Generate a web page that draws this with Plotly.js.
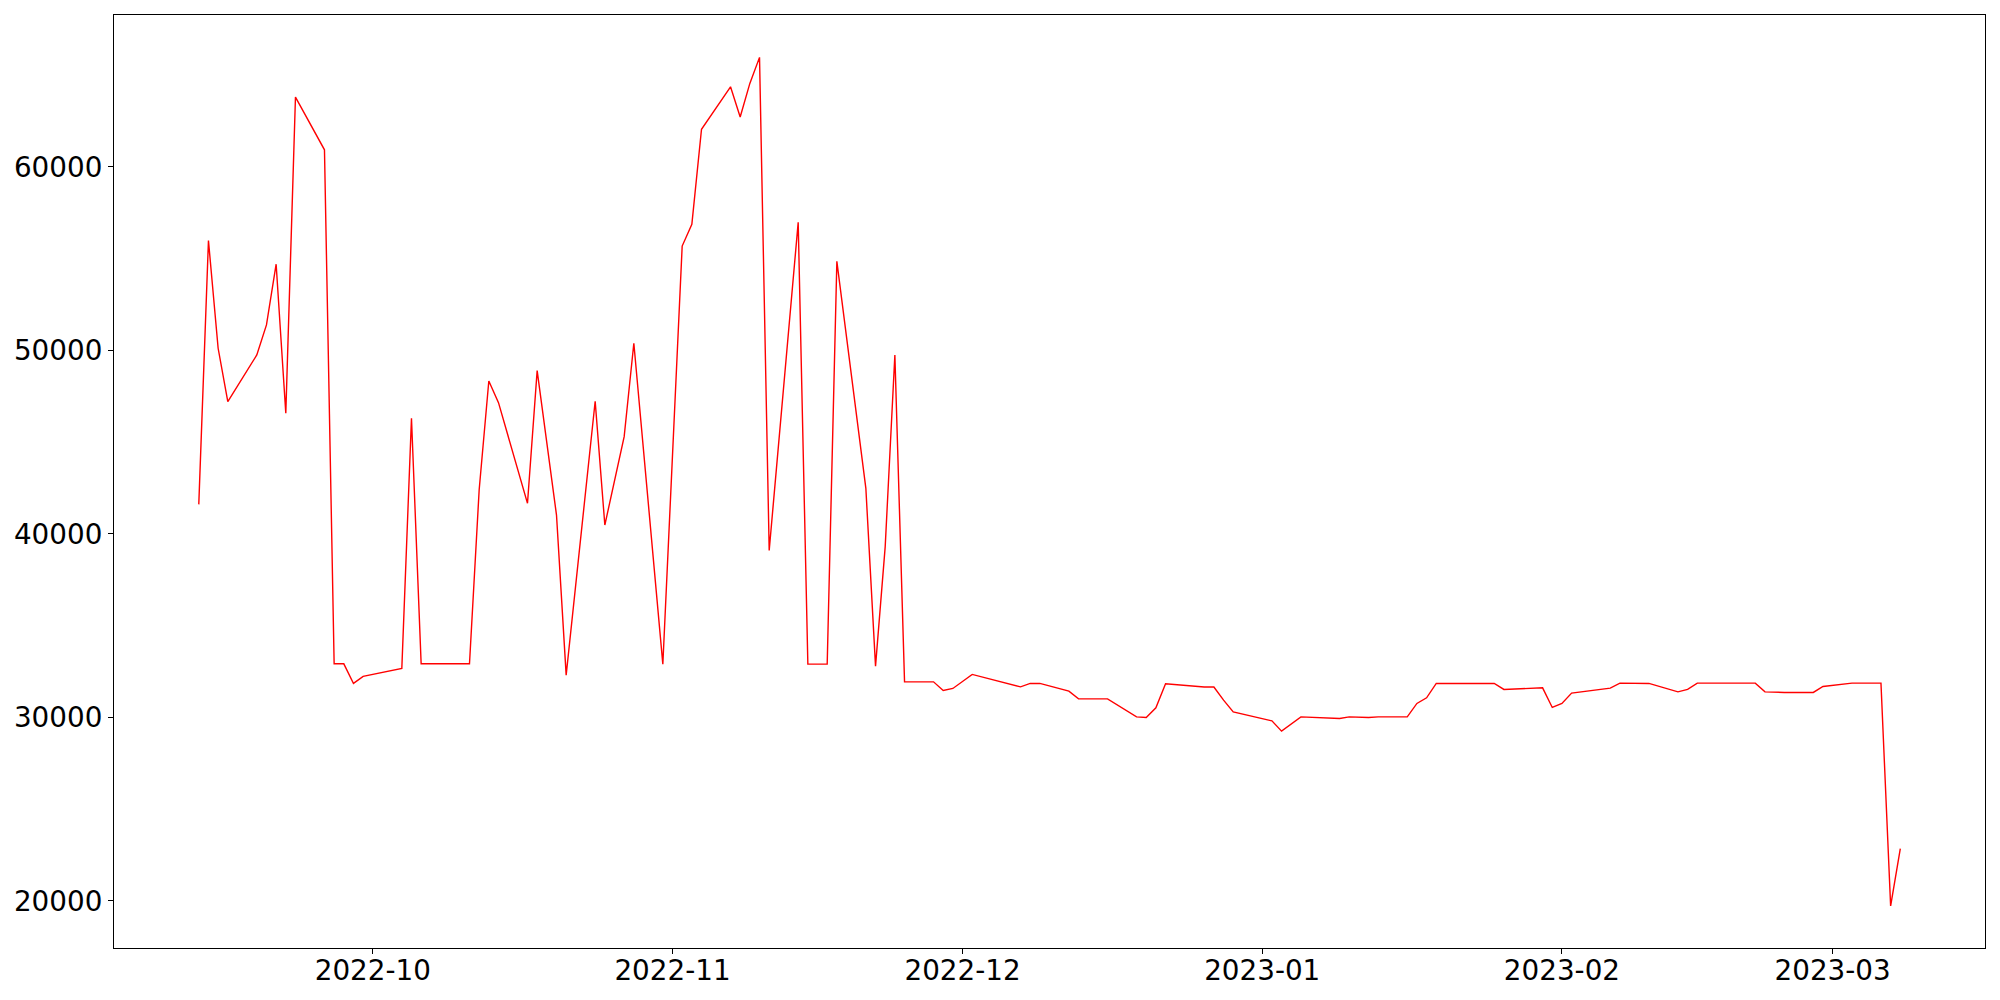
<!DOCTYPE html>
<html>
<head>
<meta charset="utf-8">
<script src="https://cdn.plot.ly/plotly-3.0.1.min.js"></script>
<style>html,body{margin:0;padding:0;background:#fff;}#chart{width:2000px;height:1000px;}</style>
</head>
<body>
<div id="chart"></div>
<script>
const dates = [
  "2022-09-13","2022-09-14","2022-09-15","2022-09-16","2022-09-19","2022-09-20","2022-09-21","2022-09-22","2022-09-23",
  "2022-09-26","2022-09-27","2022-09-28","2022-09-29","2022-09-30",
  "2022-10-04","2022-10-05","2022-10-06","2022-10-07","2022-10-10","2022-10-11","2022-10-12","2022-10-13","2022-10-14",
  "2022-10-17","2022-10-18","2022-10-20","2022-10-21","2022-10-24","2022-10-25","2022-10-27","2022-10-28","2022-10-31",
  "2022-11-02","2022-11-03","2022-11-04","2022-11-07","2022-11-08","2022-11-09","2022-11-10","2022-11-11",
  "2022-11-14","2022-11-15","2022-11-16","2022-11-17","2022-11-18","2022-11-21","2022-11-22","2022-11-23","2022-11-24","2022-11-25",
  "2022-11-28","2022-11-29","2022-11-30","2022-12-02","2022-12-07","2022-12-08","2022-12-09",
  "2022-12-12","2022-12-13","2022-12-14","2022-12-15","2022-12-16","2022-12-19","2022-12-20","2022-12-21","2022-12-22",
  "2022-12-26","2022-12-27","2022-12-28","2022-12-29","2023-01-02","2023-01-03","2023-01-05",
  "2023-01-09","2023-01-10","2023-01-12","2023-01-13","2023-01-16","2023-01-17","2023-01-18","2023-01-19","2023-01-20",
  "2023-01-25","2023-01-26","2023-01-30","2023-01-31","2023-02-01","2023-02-02","2023-02-06","2023-02-07","2023-02-08",
  "2023-02-09","2023-02-10","2023-02-13","2023-02-14","2023-02-15","2023-02-16","2023-02-17","2023-02-20","2023-02-21",
  "2023-02-22","2023-02-24","2023-02-27","2023-02-28","2023-03-03","2023-03-06","2023-03-07","2023-03-08"
];
const values = [
  41604,55979,50111,47199,49746,51383,54692,46567,63798,
  60925,32913,32913,31844,32226,
  32662,46294,32913,32913,32913,32913,42385,48328,47145,
  41660,48890,41021,32297,47222,40476,45292,50384,32896,
  55679,56868,62043,64360,62713,64545,65963,39091,
  56971,32896,32896,32896,54845,42477,32787,39300,49746,31931,
  31931,31462,31571,32335,31659,31844,31844,
  31424,31004,31004,31004,31004,30023,29990,30513,31822,
  31650,31650,30933,30295,29805,29243,30023,
  29935,30023,29990,30023,30023,30753,31059,31844,31844,
  31844,31517,31604,30535,30753,31315,31588,31860,31850,
  31850,31844,31386,31517,31860,31860,31860,31860,31860,
  31386,31353,31353,31680,31860,31860,19716,22846
];
const yTicks = [20000, 30000, 40000, 50000, 60000];
const xTicks = ["2022-10-01","2022-11-01","2022-12-01","2023-01-01","2023-02-01","2023-03-01"];
const xTickText = ["2022-10","2022-11","2022-12","2023-01","2023-02","2023-03"];

const font = {family: "DejaVu Sans, sans-serif", size: 27.8, color: "#000"};
const trace = {
  x: dates, y: values, type: "scatter", mode: "lines",
  line: {color: "#ff0000", width: 1.4}, hoverinfo: "skip"
};
const axisCommon = {
  showgrid: false, zeroline: false, showline: true, mirror: true,
  linecolor: "#000", linewidth: 1.1, ticks: "outside", ticklen: 5,
  tickwidth: 1.1, tickcolor: "#000", tickfont: font
};
const layout = {
  width: 2000, height: 1000,
  margin: {l: 114, r: 15, t: 15, b: 52, pad: 0},
  paper_bgcolor: "#fff", plot_bgcolor: "#fff",
  showlegend: false, font: font,
  xaxis: Object.assign({}, axisCommon, {
    type: "date", range: ["2022-09-04 05:30", "2023-03-16 18:15"],
    tickmode: "array", tickvals: xTicks, ticktext: xTickText,
    ticklabelstandoff: -7
  }),
  yaxis: Object.assign({}, axisCommon, {
    range: [17426, 68272], tickmode: "array", tickvals: yTicks,
    ticktext: yTicks.map(v => String(v))
  })
};
Plotly.newPlot("chart", [trace], layout, {displayModeBar: false, staticPlot: true});
</script>
</body>
</html>
